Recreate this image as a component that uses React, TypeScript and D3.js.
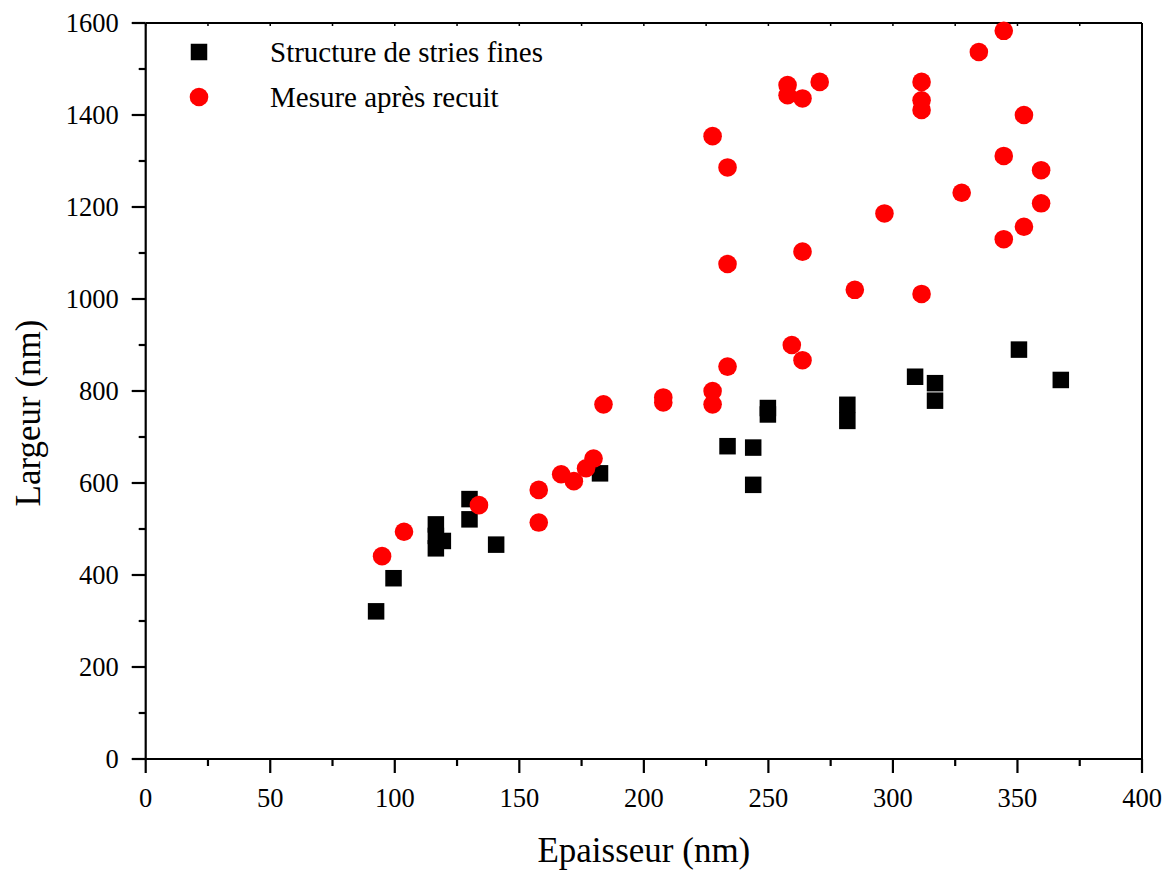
import React from "react";
import * as d3 from "d3";

const squareX = [92.5, 99.5, 116.5, 116.5, 116.5, 119.3, 130, 130, 140.7, 182.4, 233.6, 243.9, 243.9, 249.8, 249.8, 281.7, 281.7, 308.9, 316.9, 316.9, 350.6, 367.4];
const squareY = [321, 393, 510, 485, 458, 474, 565, 521, 466, 621, 680, 677, 596, 763, 749, 770, 735, 831, 817, 779, 890, 824];

const circleX = [94.9, 103.7, 133.8, 157.8, 157.8, 166.8, 171.9, 176.8, 179.8, 183.8, 207.8, 207.8, 227.6, 227.6, 233.6, 259.4, 263.7,
  344.5, 334.5, 257.7, 257.7, 263.7, 270.6, 311.5, 311.5, 311.5, 352.6, 227.6, 233.6, 344.5, 359.5, 327.6, 359.5, 296.6, 352.6, 344.5, 263.7, 233.6, 284.7, 311.5];
const circleY = [441, 494, 552, 585, 514, 619, 604, 632, 653, 771, 786, 775, 800, 771, 853, 900, 867,
  1583, 1537, 1465, 1443, 1436, 1472, 1472, 1432, 1411, 1400, 1354, 1286, 1311, 1280, 1231, 1208, 1186, 1157, 1130, 1103, 1076, 1020, 1011];

const xTicks = [0, 50, 100, 150, 200, 250, 300, 350, 400];
const yTicks = [0, 200, 400, 600, 800, 1000, 1200, 1400, 1600];
const seriesNames = ["Structure de stries fines", "Mesure après recuit"];

const FONT = "'Liberation Serif', 'Times New Roman', serif";

export default function App() {
  const W = 1170, H = 872;
  const left = 145.7, right = 1142, top = 23, bottom = 759;
  const x = d3.scaleLinear().domain([0, 400]).range([left, right]);
  const y = d3.scaleLinear().domain([0, 1600]).range([bottom, top]);
  const xMinor = d3.range(25, 400, 50);
  const yMinor = d3.range(100, 1600, 200);
  const sq = 16.5;
  const r = 9.3;

  return (
    <svg width={W} height={H} style={{ position: "absolute", left: 0, top: 0, background: "#fff" }}>
      {/* frame */}
      <line x1={left} x2={right} y1={top} y2={top} stroke="#000" strokeWidth={2} />
      <line x1={right} x2={right} y1={top} y2={bottom} stroke="#000" strokeWidth={2} />
      <line x1={left} x2={right} y1={bottom} y2={bottom} stroke="#000" strokeWidth={2.2} />
      <line x1={left} x2={left} y1={top} y2={bottom} stroke="#000" strokeWidth={2.2} />
      {/* bottom ticks */}
      {xTicks.map(t => (
        <g key={"xt" + t}>
          <line x1={x(t)} x2={x(t)} y1={bottom} y2={bottom + 14} stroke="#000" strokeWidth={2.2} />
          <line x1={x(t)} x2={x(t)} y1={top} y2={top + 3} stroke="#000" strokeWidth={1.5} />
          <text x={x(t)} y={bottom + 48} textAnchor="middle" fontFamily={FONT} fontSize={26.5}>{t}</text>
        </g>
      ))}
      {xMinor.map(t => (
        <g key={"xm" + t}>
          <line x1={x(t)} x2={x(t)} y1={bottom} y2={bottom + 7} stroke="#000" strokeWidth={2.2} />
          <line x1={x(t)} x2={x(t)} y1={top} y2={top + 3} stroke="#000" strokeWidth={1.5} />
        </g>
      ))}
      {/* left ticks */}
      {yTicks.map(t => (
        <g key={"yt" + t}>
          <line x1={left - 14} x2={left} y1={y(t)} y2={y(t)} stroke="#000" strokeWidth={2.2} />
          <text x={left - 27} y={y(t) + 9} textAnchor="end" fontFamily={FONT} fontSize={26.5}>{t}</text>
        </g>
      ))}
      {yMinor.map(t => (
        <line key={"ym" + t} x1={left - 7} x2={left} y1={y(t)} y2={y(t)} stroke="#000" strokeWidth={2.2} />
      ))}
      {/* axis titles */}
      <text x={(left + right) / 2} y={862} textAnchor="middle" fontFamily={FONT} fontSize={35}>Epaisseur (nm)</text>
      <text transform={`translate(40, ${(top + bottom) / 2 + 22}) rotate(-90)`} textAnchor="middle" fontFamily={FONT} fontSize={35}>Largeur (nm)</text>
      {/* data */}
      {squareX.map((v, i) => (
        <rect key={"s" + i} x={x(v) - sq / 2} y={y(squareY[i]) - sq / 2} width={sq} height={sq} fill="#000" />
      ))}
      {circleX.map((v, i) => (
        <circle key={"c" + i} cx={x(v)} cy={y(circleY[i])} r={r} fill="#ff0000" />
      ))}
      {/* legend */}
      <rect x={199 - sq / 2} y={52 - sq / 2} width={sq} height={sq} fill="#000" />
      <circle cx={199} cy={97} r={r} fill="#ff0000" />
      <text x={270} y={62} fontFamily={FONT} fontSize={29}>{seriesNames[0]}</text>
      <text x={270} y={107} fontFamily={FONT} fontSize={29}>{seriesNames[1]}</text>
    </svg>
  );
}
